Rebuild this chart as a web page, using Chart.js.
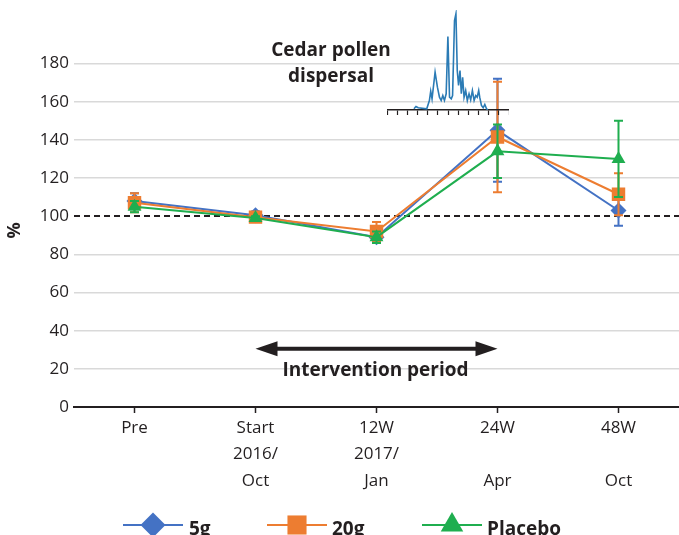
<!DOCTYPE html>
<html><head><meta charset="utf-8">
<script src="https://cdn.jsdelivr.net/npm/chart.js@4.4.1/dist/chart.umd.min.js"></script>
<style>
html,body{margin:0;padding:0;background:#fff;}
#wrap{position:relative;width:679px;height:535px;overflow:hidden;background:#fff;}
#main{position:absolute;left:0;top:0;}
#inset{position:absolute;left:387px;top:10px;z-index:2;}
</style></head><body>
<div id="wrap"><canvas id="main" width="679" height="535"></canvas><canvas id="inset" width="122" height="105"></canvas></div>
<script>
// ---------- data ----------
const categories = [['Pre'], ['Start','2016/','Oct'], ['12W','2017/','Jan'], ['24W','','Apr'], ['48W','','Oct']];
const seriesNames = ['5g', '20g', 'Placebo'];
const values5g      = [108, 100.5, 89, 145, 103];
const values20g     = [107, 99.5, 92, 141.5, 111.5];
const valuesPlacebo = [105, 99, 89, 134, 130];
const err5g      = [4, 2, 3, 27, 8];
const err20g     = [5, 1, 5, 29, 11];
const errPlacebo = [3, 1, 3, 14, 20];
const yTickValues = [0, 20, 40, 60, 80, 100, 120, 140, 160, 180];
const referenceLevel = 100;
const interventionFrom = 1, interventionTo = 3;
const annotationText = ['Cedar pollen', 'dispersal'];
const interventionLabel = 'Intervention period';
// cedar pollen inset (day index, relative level)
const pollenDay   = [26.5, 28.5, 30.7, 39.1, 41.7, 43.0, 44.3, 47.3, 49.6, 51.6, 53.3, 54.9, 56.5, 58.2, 59.9, 61.5, 63.2, 64.5, 66.4, 67.8, 69.1, 70.4, 71.8, 73.1, 74.4, 75.8, 77.4, 79.0, 80.7, 82.3, 84.0, 85.7, 87.3, 88.7, 90.2, 91.2, 92.9, 94.6, 96.2, 97.9, 99.2];
const pollenLevel = [1.2, 3.5, 2.2, 1.2, 9.5, 18.8, 11.2, 37.8, 22.8, 12.8, 9.5, 14.5, 9.5, 16.2, 73.5, 12.8, 11.2, 14.5, 89.5, 96.2, 39.5, 24.5, 39.5, 16.2, 32.8, 12.8, 19.5, 9.5, 16.2, 10.2, 19.5, 9.5, 14.5, 12.8, 19.5, 12.8, 4.5, 2.2, 5.5, 1.2, 0.2];

// ---------- style ----------
const FONT = '"Open Sans", "Noto Sans", sans-serif';
const TXT = '#231f20';
const BLUE = '#4472c4', ORANGE = '#ed7d31', GREEN = '#1fae4f';
Chart.defaults.font.family = FONT;
Chart.defaults.color = TXT;

function drawMarker(ctx, style, r, x, y, color) {
  if (Chart.helpers && Chart.helpers.drawPoint) {
    ctx.save();
    ctx.fillStyle = color; ctx.strokeStyle = color; ctx.lineWidth = 0;
    Chart.helpers.drawPoint(ctx, {pointStyle: style, radius: r, borderWidth: 0, rotation: 0}, x, y);
    ctx.restore();
  }
}

const errorBars = {
  id: 'errorBars',
  beforeDatasetDraw(chart, args) {
    const ds = chart.data.datasets[args.index];
    const meta = chart.getDatasetMeta(args.index);
    const ys = chart.scales.y;
    const ctx = chart.ctx;
    ctx.save();
    ctx.strokeStyle = ds.borderColor; ctx.lineWidth = 2;
    meta.data.forEach((pt, i) => {
      const v = ds.data[i], e = ds.errors[i];
      const yt = ys.getPixelForValue(v + e), yb = ys.getPixelForValue(v - e);
      ctx.beginPath();
      ctx.moveTo(pt.x, yt); ctx.lineTo(pt.x, yb);
      ctx.moveTo(pt.x - 4.5, yt); ctx.lineTo(pt.x + 4.5, yt);
      ctx.moveTo(pt.x - 4.5, yb); ctx.lineTo(pt.x + 4.5, yb);
      ctx.stroke();
    });
    ctx.restore();
  }
};

const refLine = {
  id: 'refLine',
  beforeDatasetsDraw(chart) {
    const {ctx, chartArea, scales: {y}} = chart;
    const py = Math.round(y.getPixelForValue(referenceLevel));
    ctx.save();
    ctx.strokeStyle = TXT; ctx.lineWidth = 2; ctx.setLineDash([6, 4]);
    ctx.beginPath(); ctx.moveTo(chartArea.left, py); ctx.lineTo(chartArea.right, py); ctx.stroke();
    ctx.restore();
  }
};

const annotations = {
  id: 'annotations',
  afterDraw(chart) {
    const {ctx, scales: {x, y}} = chart;
    ctx.save();
    // arrow
    const x1 = x.getPixelForValue(interventionFrom), x2 = x.getPixelForValue(interventionTo);
    const ay = y.getPixelForValue(30.5);
    ctx.fillStyle = TXT; ctx.strokeStyle = TXT; ctx.lineWidth = 4;
    ctx.beginPath(); ctx.moveTo(x1 + 15, ay); ctx.lineTo(x2 - 15, ay); ctx.stroke();
    ctx.beginPath(); ctx.moveTo(x1, ay); ctx.lineTo(x1 + 22, ay - 7.5); ctx.lineTo(x1 + 22, ay + 7.5); ctx.closePath(); ctx.fill();
    ctx.beginPath(); ctx.moveTo(x2, ay); ctx.lineTo(x2 - 22, ay - 7.5); ctx.lineTo(x2 - 22, ay + 7.5); ctx.closePath(); ctx.fill();
    ctx.font = 'bold 19px ' + FONT;
    ctx.textAlign = 'center'; ctx.textBaseline = 'middle';
    ctx.fillText(interventionLabel, (x1 + x2) / 2 - 1, 371);
    ctx.fillText(annotationText[0], 331, 51);
    ctx.fillText(annotationText[1], 331, 77);
    // legend
    const ds = chart.data.datasets;
    const lx = [153, 297, 452], tx = [189, 332, 487];
    const lr = [12.5, 13.5, 13];
    const ly = 525;
    ds.forEach((d, i) => {
      ctx.strokeStyle = d.borderColor; ctx.lineWidth = 2;
      ctx.beginPath(); ctx.moveTo(lx[i] - 30, ly); ctx.lineTo(lx[i] + 30, ly); ctx.stroke();
      drawMarker(ctx, d.pointStyle, lr[i], lx[i], ly, d.borderColor);
      ctx.fillStyle = TXT; ctx.font = 'bold 19px ' + FONT;
      ctx.textAlign = 'left'; ctx.textBaseline = 'middle';
      ctx.fillText(d.label, tx[i], ly + 5);
    });
    ctx.restore();
  }
};

new Chart(document.getElementById('main'), {
  type: 'line',
  data: {
    labels: categories,
    datasets: [
      {label: seriesNames[0], data: values5g, errors: err5g, borderColor: BLUE, backgroundColor: BLUE, pointStyle: 'rectRot', pointRadius: 8, pointBorderWidth: 0, borderWidth: 2, order: 3},
      {label: seriesNames[1], data: values20g, errors: err20g, borderColor: ORANGE, backgroundColor: ORANGE, pointStyle: 'rect', pointRadius: 9.5, pointBorderWidth: 0, borderWidth: 2, order: 2},
      {label: seriesNames[2], data: valuesPlacebo, errors: errPlacebo, borderColor: GREEN, backgroundColor: GREEN, pointStyle: 'triangle', pointRadius: 8, pointBorderWidth: 0, borderWidth: 2, order: 1}
    ]
  },
  options: {
    responsive: false, animation: false,
    layout: {padding: {top: 54, left: 0, right: 0, bottom: 0}, autoPadding: false},
    plugins: {legend: {display: false}, tooltip: {enabled: false}},
    scales: {
      x: {
        offset: true,
        grid: {drawOnChartArea: false, drawTicks: true, tickLength: 6, tickColor: TXT, tickWidth: 1.5},
        border: {color: TXT, width: 2},
        ticks: {font: {size: 17, lineHeight: 1.55}, padding: 2, maxRotation: 0, autoSkip: false, color: TXT},
        afterFit(s) { s.height = 128; s.paddingLeft = 0; s.paddingRight = 0; }
      },
      y: {
        min: 0, max: 185,
        ticks: {stepSize: 20, font: {size: 17}, padding: 5, color: TXT},
        afterBuildTicks(s) { s.ticks = yTickValues.map(v => ({value: v})); },
        grid: {color: c => (c.tick && (c.tick.value === referenceLevel || c.tick.value === 0)) ? 'rgba(0,0,0,0)' : '#d9d9d9', lineWidth: 1.5, drawTicks: false},
        border: {display: false},
        title: {display: true, text: '%', font: {size: 18, weight: 'bold'}, padding: {top: 4, bottom: 0}, color: TXT},
        afterFit(s) { s.width = 74; s.paddingTop = 0; s.paddingBottom = 0; }
      }
    }
  },
  plugins: [refLine, errorBars, annotations]
});

new Chart(document.getElementById('inset'), {
  type: 'line',
  data: {datasets: [{data: pollenDay.map((d, i) => ({x: d, y: pollenLevel[i]})), borderColor: '#2b7bb5', borderWidth: 1.6, pointRadius: 0, tension: 0}]},
  options: {
    responsive: false, animation: false,
    layout: {padding: 0, autoPadding: false},
    plugins: {legend: {display: false}, tooltip: {enabled: false}},
    scales: {
      x: {type: 'linear', min: 0, max: 120, ticks: {display: false, stepSize: 10},
          grid: {drawOnChartArea: false, drawTicks: true, tickLength: 5, tickColor: TXT, tickWidth: 1.2},
          border: {color: TXT, width: 1.5}},
      y: {display: false, min: 0, max: 100}
    }
  }
});
</script>
</body></html>
